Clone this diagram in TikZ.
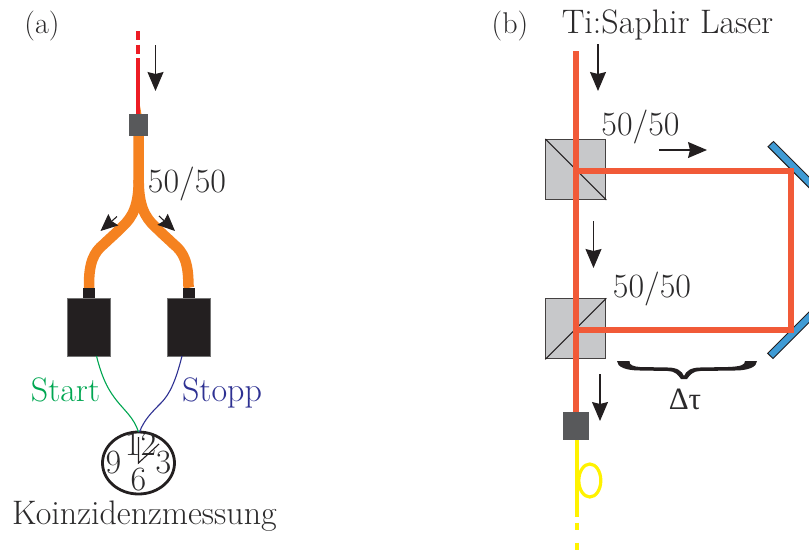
\documentclass[tikz,border=0pt]{standalone}
\usepackage{fontspec}
\newfontfamily\greekfont{Liberation Serif}
\usetikzlibrary{arrows.meta,shapes.geometric}
\definecolor{ink}{HTML}{231F20}
\definecolor{txt}{HTML}{2B2A2B}
\definecolor{redbeam}{HTML}{ED1C24}
\definecolor{fiber}{HTML}{F58220}
\definecolor{beam}{HTML}{F15A38}
\definecolor{coupler}{HTML}{58595B}
\definecolor{cube}{HTML}{C7C8CA}
\definecolor{mirror}{HTML}{3F9BD5}
\definecolor{startc}{HTML}{00A651}
\definecolor{stoppc}{HTML}{2E3192}
\definecolor{yfib}{HTML}{FFF200}
\tikzset{
  x=1pt,y=-1pt,
  lab/.style={font=\fontsize{34}{40}\selectfont,text=txt,inner sep=0pt,anchor=base},
  panel/.style={font=\fontsize{30}{36}\selectfont,text=txt,inner sep=0pt,anchor=base},
  couplerbox/.style={fill=coupler,draw=none,inner sep=0pt,minimum width=#1},
  detbox/.style={fill=ink,draw=black!55,line width=.6pt,inner sep=0pt,minimum width=43pt,minimum height=58pt},
  neckbox/.style={fill=ink,inner sep=0pt,minimum width=12pt,minimum height=10pt},
  cubebox/.style={fill=cube,draw=ink!85,line width=1pt,inner sep=0pt,minimum width=60pt,minimum height=60pt},
  flow/.style={draw=ink,line width=1.1pt,-{Stealth[length=19pt,width=16pt,inset=2pt]}},
  flowshort/.style={draw=ink,line width=1.1pt,-{Stealth[length=17pt,width=15pt,inset=2pt]}},
  beamline/.style={draw=beam,line width=6pt},
}
\begin{document}
\begin{tikzpicture}
\useasboundingbox (0,0) rectangle (809,552);
\begin{scope}
\clip (0,0) rectangle (809,552);

% ---------- (a) ----------
\node[panel] (labela) at (42,33) {(a)};
\coordinate (redtop) at (137.7,31);
\coordinate (redsolid) at (137.7,58);
\node[couplerbox=19pt,minimum height=22pt] (ca) at (138.5,125) {};
\coordinate (fork) at (138.7,180);
\node[neckbox] (nl) at (89,293) {};
\node[neckbox] (nr) at (189,293) {};
\node[detbox] (dl) at (88.5,327) {};
\node[detbox] (dr) at (189,327) {};
\node[draw=ink,line width=2.8pt,ellipse,inner sep=0pt,minimum width=72pt,minimum height=62pt] (clock) at (138.5,463) {};

\fill[fiber] (139.5,103) -- (141.5,114.5) -- (139,114.5) -- cycle;
\draw[fiber,line width=10.5pt] (ca.south) -- (fork)
  .. controls (138.7,205) and (133,217) .. (122,227)
  .. controls (114,235) and (108,240) .. (104,244)
  .. controls (94,252) and (89,262) .. (89,285) -- (nl.north);
\draw[fiber,line width=10.5pt] (fork)
  .. controls (138.7,205) and (144.4,217) .. (155.4,227)
  .. controls (163.4,235) and (169.4,240) .. (173.4,244)
  .. controls (183.4,252) and (188.4,262) .. (188.4,285) -- (nr.north);
\node[neckbox] at (nl) {};
\node[neckbox] at (nr) {};
\node[detbox] at (dl) {};
\node[detbox] at (dr) {};
\draw[redbeam,line width=4pt,dash pattern=on 9pt off 4.5pt] (redtop) -- (redsolid);
\draw[redbeam,line width=4pt] (redsolid) -- (redsolid |- ca.north);
\node[couplerbox=19pt,minimum height=22pt] at (ca) {};

\coordinate (aa1) at (155.5,45); \coordinate (aa2) at (155.5,91);
\draw[flow] (aa1) -- (aa2);
\coordinate (al1) at (117,216.5); \coordinate (al2) at (100.5,231);
\draw[flowshort] (al1) -- (al2);
\coordinate (ar1) at (159,216); \coordinate (ar2) at (175,231);
\draw[flowshort] (ar1) -- (ar2);

\node[lab] (sa) at (187,192) {50/50};
\coordinate (gs) at (96.5,356); \coordinate (bs) at (182,356);
\draw[startc,line width=1.1pt] (gs) .. controls (103,382) and (110,392) .. (117,401)
   .. controls (125,411) and (134,418) .. (138.5,432);
\draw[stoppc,line width=1.1pt] (bs) .. controls (176,380) and (170,394) .. (161,403)
   .. controls (152,412) and (144,420) .. (139.5,432);
\node[lab,text=startc] (st) at (65.5,401) {Start};
\node[lab,text=stoppc] (sp) at (222,401) {Stopp};

\node[lab] (c12) at (140.5,455) {12};
\node[lab] (c9) at (113.5,473) {9};
\node[lab] (c3) at (163.5,473) {3};
\node[lab] (c6) at (138.5,490) {6};
\coordinate (hc) at (138.5,463); \coordinate (h1) at (138.5,437); \coordinate (h2) at (159,444);
\draw[ink,line width=1.1pt] (h1) -- (hc) -- (h2);
\node[lab] (koin) at (144.5,524) {Koinzidenzmessung};

% ---------- (b) ----------
\node[panel] (labelb) at (510,33) {(b)};
\node[lab] (laser) at (667.5,33) {Ti:Saphir Laser};

\filldraw[fill=mirror,draw=ink,line width=1pt] (768,146.7) -- (773.5,141.5) -- (843.5,211.5) -- (838,216.7) -- cycle;
\filldraw[fill=mirror,draw=ink,line width=1pt] (767.7,353.3) -- (773,358.5) -- (843,288.5) -- (837.7,283.3) -- cycle;

\node[cubebox] (bs1) at (575.8,169.5) {};
\node[cubebox] (bs2) at (575.8,328.8) {};
\draw[ink,line width=1pt] (bs1.north west) -- (bs1.south east);
\draw[ink,line width=1pt] (bs2.south west) -- (bs2.north east);
\node[couplerbox=26pt,minimum height=28pt] (cb) at (576,426) {};

\coordinate (beamtop) at (576,51);
\coordinate (up1) at (576,171);
\coordinate (up2) at (576,330);
\coordinate (cornera) at (791,171);
\coordinate (cornerb) at (791,330);
\draw[beamline] (beamtop) -- (cb.north);
\draw[beamline,line join=miter] (up1) -- (cornera) -- (cornerb) -- (up2);

\coordinate (ytop) at (577,440);
\coordinate (ysolid) at (577,517);
\coordinate (yend) at (577,550);
\draw[yfib,line width=4pt] (ytop) -- (ysolid);
\draw[yfib,line width=4pt,dash pattern=on 7.5pt off 12.5pt,dash phase=-5.5pt] (ysolid) -- (yend);
\draw[yfib,line width=3.2pt] (589.8,480.5) ellipse [x radius=11pt,y radius=16.5pt];
\node[couplerbox=26pt,minimum height=28pt] at (cb) {};

\coordinate (b1a) at (598,44); \coordinate (b1b) at (598,91);
\draw[flow] (b1a) -- (b1b);
\coordinate (b2a) at (659,150); \coordinate (b2b) at (707,150);
\draw[flow] (b2a) -- (b2b);
\coordinate (b3a) at (593.5,221); \coordinate (b3b) at (593.5,268);
\draw[flow] (b3a) -- (b3b);
\coordinate (b4a) at (600,374); \coordinate (b4b) at (600,421);
\draw[flow] (b4a) -- (b4b);

\node[lab] (sb1) at (640.5,135) {50/50};
\node[lab] (sb2) at (652,297) {50/50};

\fill[ink] (617,361) -- (629.5,361)
  .. controls (629,365) and (633,366.5) .. (640,367) -- (668,367.5)
  .. controls (677,367.5) and (682,371) .. (684,376)
  .. controls (686,371) and (691,367.5) .. (700,367.5) -- (728,367)
  .. controls (741,366.5) and (745,365) .. (745,361) -- (757,361)
  .. controls (757,367) and (748,370.5) .. (735,370.5) -- (700,371)
  .. controls (693,371) and (690,375) .. (687,379) -- (681,379)
  .. controls (678,375) and (675,371) .. (668,371) -- (640,370.5)
  .. controls (626,370.5) and (617,367) .. cycle;
\node[lab,font=\fontsize{31}{36}\selectfont\greekfont] (dt) at (685,409) {Δτ};
\end{scope}
\end{tikzpicture}
\end{document}
